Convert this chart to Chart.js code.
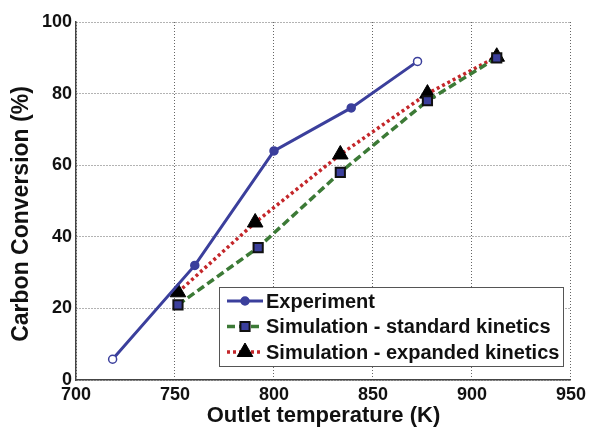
<!DOCTYPE html>
<html>
<head>
<meta charset="utf-8">
<script src="https://cdn.jsdelivr.net/npm/chart.js@4"></script>
<style>
  html, body { margin: 0; padding: 0; background: #fff; }
  #wrap { width: 590px; height: 429px; position: relative; }
</style>
</head>
<body>
<div id="wrap"><canvas id="conversionChart"></canvas></div>
<script>
// --- data ---
const expTemp = [718.5, 760, 800, 839, 872.5];
const expConv = [5.8, 32, 64, 76, 89];

const stdTemp = [751.5, 792, 833.5, 877.5, 912.5];
const stdConv = [21, 37, 58, 78, 90];

const expandTemp = [751.5, 790.5, 833.5, 877.5, 912.5];
const expandConv = [24.5, 44, 63, 80, 90.3];

const seriesNames = [
  "Experiment",
  "Simulation - standard kinetics",
  "Simulation - expanded kinetics",
];

function toPoints(xs, ys) {
  return xs.map(function (x, i) { return { x: x, y: ys[i] }; });
}

const BLUE = "#3b3f9c";
const GREEN = "#3c7a36";
const RED = "#c4262a";
const FONT = "'Liberation Sans', Arial, sans-serif";

// legend marker colours (fill, stroke) per series
const legendMarkers = [
  { fill: BLUE, stroke: BLUE },
  { fill: BLUE, stroke: "#111" },
  { fill: "#000", stroke: "#000" },
];

// legend box drawn inside the plot area (bottom right), like the original
const insideLegend = {
  id: "insideLegend",
  afterDatasetsDraw: function (chart) {
    const ctx = chart.ctx;
    const boxX = 219, boxY = 287, boxW = 344, boxH = 79;
    ctx.save();
    ctx.fillStyle = "#fff";
    ctx.fillRect(boxX, boxY, boxW, boxH);
    ctx.strokeStyle = "#555";
    ctx.lineWidth = 1;
    ctx.strokeRect(boxX + 0.5, boxY + 0.5, boxW, boxH);

    const rowY = [301, 326.5, 352];
    chart.data.datasets.forEach(function (ds, i) {
      const y = rowY[i];
      ctx.save();
      ctx.strokeStyle = ds.borderColor;
      ctx.lineWidth = ds.borderWidth;
      ctx.setLineDash(ds.borderDash || []);
      ctx.beginPath();
      ctx.moveTo(227, y);
      ctx.lineTo(263, y);
      ctx.stroke();
      ctx.restore();

      ctx.save();
      ctx.fillStyle = legendMarkers[i].fill;
      ctx.strokeStyle = legendMarkers[i].stroke;
      ctx.lineWidth = ds.pointBorderWidth;
      Chart.helpers.drawPoint(ctx, {
        pointStyle: ds.pointStyle,
        radius: ds.pointRadius,
        borderWidth: ds.pointBorderWidth,
      }, 245, y);
      ctx.restore();

      ctx.fillStyle = "#111";
      ctx.font = "bold 20px " + FONT;
      ctx.textBaseline = "middle";
      ctx.textAlign = "left";
      ctx.fillText(seriesNames[i], 266, y + 1);
    });
    ctx.restore();
  },
};

// y title drawn by hand so it can sit slightly below the axis centre
const yTitle = {
  id: "yTitle",
  afterDraw: function (chart) {
    const ctx = chart.ctx;
    ctx.save();
    ctx.translate(22, 214);
    ctx.rotate(-Math.PI / 2);
    ctx.fillStyle = "#111";
    ctx.font = "bold 23px " + FONT;
    ctx.textAlign = "center";
    ctx.textBaseline = "middle";
    ctx.fillText("Carbon Conversion (%)", 0, 0);
    ctx.restore();
  },
};

new Chart(document.getElementById("conversionChart"), {
  type: "scatter",
  data: {
    datasets: [
      {
        label: seriesNames[0],
        data: toPoints(expTemp, expConv),
        showLine: true,
        borderColor: BLUE,
        borderWidth: 3,
        pointStyle: "circle",
        pointRadius: 4,
        pointBorderWidth: 1.5,
        pointBorderColor: BLUE,
        pointBackgroundColor: ["#fff", BLUE, BLUE, BLUE, "#fff"],
      },
      {
        label: seriesNames[1],
        data: toPoints(stdTemp, stdConv),
        showLine: true,
        borderColor: GREEN,
        borderWidth: 3.5,
        borderDash: [8, 4],
        pointStyle: "rect",
        pointRadius: 6.5,
        pointBorderWidth: 2,
        pointBorderColor: "#111",
        pointBackgroundColor: BLUE,
      },
      {
        label: seriesNames[2],
        data: toPoints(expandTemp, expandConv),
        showLine: true,
        borderColor: RED,
        borderWidth: 3.5,
        borderDash: [3, 3],
        pointStyle: "triangle",
        pointRadius: 9,
        pointBorderWidth: 1,
        pointBorderColor: "#000",
        pointBackgroundColor: "#000",
      },
    ],
  },
  options: {
    responsive: true,
    maintainAspectRatio: false,
    animation: false,
    layout: { padding: { top: 22, right: 14, left: 0, bottom: 0 } },
    plugins: {
      legend: { display: false },
      tooltip: { enabled: false },
    },
    scales: {
      x: {
        type: "linear",
        min: 700,
        max: 950,
        ticks: {
          stepSize: 50,
          color: "#111",
          font: { family: FONT, size: 18, weight: "bold" },
          padding: 4,
          maxRotation: 0,
        },
        grid: { color: "#666", lineWidth: 1, drawTicks: false },
        border: { display: true, color: "#444", width: 1.5, dash: [1, 2] },
        title: {
          display: true,
          text: "Outlet temperature (K)",
          color: "#111",
          font: { family: FONT, size: 22, weight: "bold" },
          padding: { top: 0, bottom: 0 },
        },
        afterFit: function (scale) { scale.height = 49; },
      },
      y: {
        type: "linear",
        min: 0,
        max: 100,
        ticks: {
          stepSize: 20,
          color: "#111",
          font: { family: FONT, size: 18, weight: "bold" },
          padding: 4,
        },
        grid: { color: "#666", lineWidth: 1, drawTicks: false },
        border: { display: true, color: "#444", width: 1.5, dash: [1, 2] },
        title: { display: false },
        afterFit: function (scale) { scale.width = 76; },
      },
    },
  },
  plugins: [insideLegend, yTitle],
});
</script>
</body>
</html>
